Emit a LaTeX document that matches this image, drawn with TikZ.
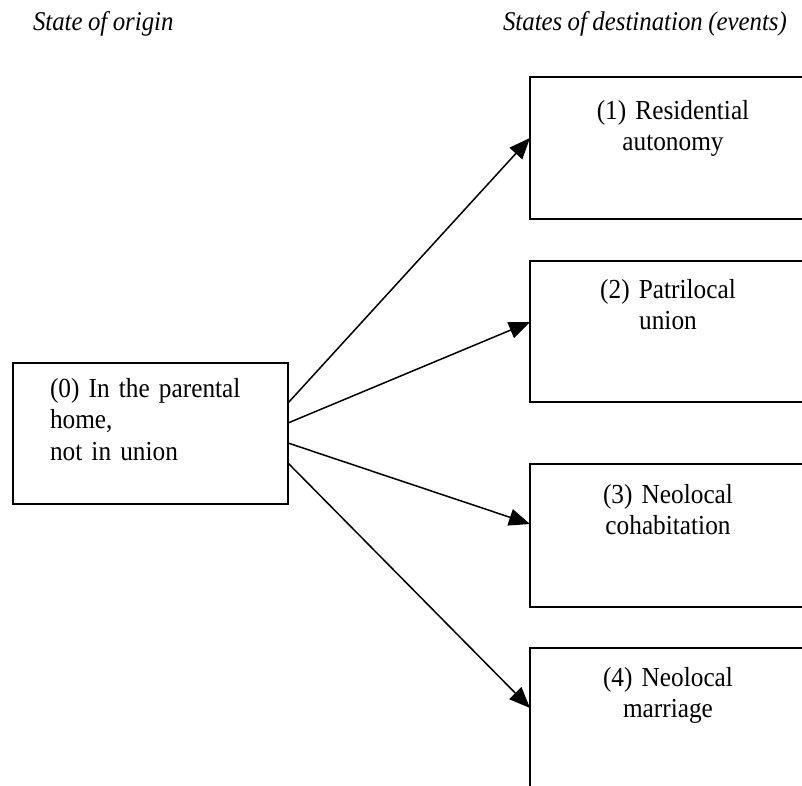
\documentclass[tikz,border=0pt]{standalone}
\usepackage{fontspec}
\setmainfont[FakeStretch=0.92]{Liberation Serif}
\usetikzlibrary{arrows.meta,calc}
\newcommand\tightsp{\spaceskip=0.2em\relax}
\begin{document}
\begin{tikzpicture}[x=1pt,y=-1pt,
  stbox/.style={draw, line width=1.6pt, inner sep=0pt, outer sep=0pt, minimum width=#1},
  txt/.style={inner sep=0pt, outer sep=0pt, font=\fontsize{27.5}{31.5}\selectfont\tightsp},
  ctxt/.style={txt, text width=260pt, align=center, anchor=base},
  ltxt/.style={txt, text width=230pt, align=left, anchor=base west},
  hdr/.style={txt, font=\fontsize{27}{31.5}\selectfont\itshape\tightsp, anchor=base west},
  arr/.style={line width=1.5pt, -{Triangle[length=21pt,width=17pt]}}]
\clip (0,0) rectangle (802,785);
\fill[white] (0,0) rectangle (802,785);
% headers
\node[hdr] (h0) at (33,30) {State of origin};
\node[hdr] (h1) at (503,30) {States of destination (events)};
% boxes
\node[stbox=275.3pt, minimum height=141.3pt] (b0) at (150.35,433.35) {};
\node[stbox=277pt, minimum height=142pt] (b1) at (668.5,148) {};
\node[stbox=277pt, minimum height=141pt] (b2) at (668.5,331.5) {};
\node[stbox=277pt, minimum height=143pt] (b3) at (668.5,535.5) {};
\node[stbox=277pt, minimum height=142pt] (b4) at (668.5,719) {};
% texts
\node[ltxt] (t0) at (50,397) {(0) In the parental\\home,\\not in union};
\node[ctxt] (t1) at (673,119) {(1) Residential\\autonomy};
\node[ctxt] (t2) at (668,298) {(2) Patrilocal\\union};
\node[ctxt] (t3) at (668,503) {(3) Neolocal\\cohabitation};
\node[ctxt] (t4) at (668,686) {(4) Neolocal\\marriage};
% arrows
\draw[arr] (b0.east |- 0,403) -- (b1.west |- 0,138);
\draw[arr] (b0.east |- 0,423) -- (b2.west |- 0,322);
\draw[arr] (b0.east |- 0,443) -- (b3.west |- 0,524);
\draw[arr] (b0.east |- 0,463) -- (b4.west |- 0,708);
\end{tikzpicture}
\end{document}
